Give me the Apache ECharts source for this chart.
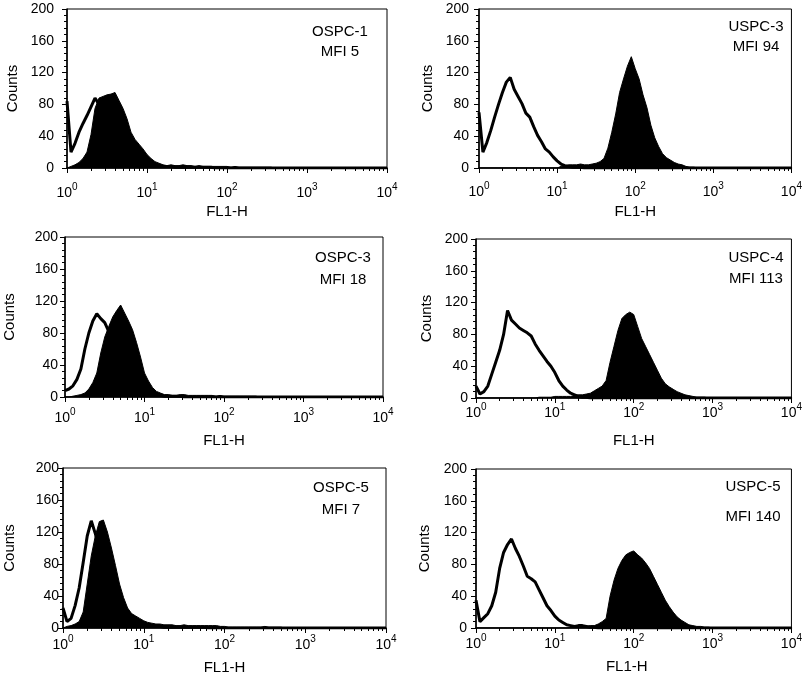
<!DOCTYPE html>
<html>
<head>
<meta charset="utf-8">
<script src="https://cdn.jsdelivr.net/npm/echarts@6/dist/echarts.min.js"></script>
<style>html,body{margin:0;padding:0;background:#fff}#c{width:805px;height:682px}</style>
</head>
<body>
<div id="c"></div>
<script>
// x positions: log10 of FL1-H fluorescence (0 = 10^0 ... 4 = 10^4)
const logFL = [0,0.05,0.1,0.15,0.2,0.25,0.3,0.35,0.4,0.45,0.5,0.55,0.6,0.65,0.7,0.75,0.8,0.85,0.9,0.95,
  1,1.05,1.1,1.15,1.2,1.25,1.3,1.35,1.4,1.45,1.5,1.55,1.6,1.65,1.7,1.75,1.8,1.85,1.9,1.95,
  2,2.05,2.1,2.15,2.2,2.25,2.3,2.35,2.4,2.45,2.5,2.55,2.6,2.65,2.7,2.75,2.8,2.85,2.9,2.95,
  3,3.05,3.1,3.15,3.2,3.25,3.3,3.35,3.4,3.45,3.5,3.55,3.6,3.65,3.7,3.75,3.8,3.85,3.9,3.95,4];

const xTickLabels = ['0','1','2','3','4'];
const yTicks = [0,40,80,120,160,200];

// counts per channel, open (control) and filled (stained) histograms
const ospc1Open = [84,20,31,45,56,66,77,88,80,72,62,52,42,33,26,20,15,11,8,6,5,4,3,3,2,2,2,1,1,1,1,1,1,1,1,1,1,0,0,0,0,0,0,0,0,0,0,0,0,0,0,0,0,0,0,0,0,0,0,0,0,0,0,0,0,0,0,0,0,0,0,0,0,0,0,0,0,0,0,0,0];
const ospc1Fill = [0,2,4,7,12,20,42,75,88,90,92,93,95,85,75,62,45,36,30,24,17,12,8,6,4,3,4,3,3,4,3,3,2,3,2,2,2,2,2,2,2,1,2,1,1,1,1,1,1,1,1,1,0,0,0,0,0,0,0,0,0,0,0,0,0,0,0,0,0,0,0,0,0,0,0,0,0,0,0,0,0];

const uspc3Open = [70,20,32,47,64,80,95,108,114,99,90,81,69,64,52,41,33,24,20,14,9,5,3,2,1,1,1,0,0,0,0,0,0,0,0,0,0,0,0,0,0,0,0,0,0,0,0,0,0,0,0,0,0,0,0,0,0,0,0,0,0,0,0,0,0,0,0,0,0,0,0,0,0,0,0,0,0,0,0,0,0];
const uspc3Fill = [0,0,0,0,0,0,0,0,0,0,0,0,0,0,0,0,0,0,0,0,0,2,3,4,4,4,5,4,4,5,6,8,12,25,45,68,95,112,128,140,125,112,92,76,54,38,27,18,13,10,7,5,4,2,1,1,0,0,0,0,0,0,0,0,0,0,0,0,0,0,0,0,0,0,0,0,0,0,0,0,0];

const ospc3Open = [8,10,14,22,35,60,80,95,104,98,93,82,68,55,42,30,20,14,9,6,4,3,3,2,2,1,1,1,1,1,0,0,0,0,0,0,0,0,0,0,0,0,0,0,0,0,0,0,0,0,0,0,0,0,0,0,0,0,0,0,0,0,0,0,0,0,0,0,0,0,0,0,0,0,0,0,0,0,0,0,0];
const ospc3Fill = [0,0,1,2,3,5,10,18,30,55,75,88,100,108,115,105,95,84,68,50,30,20,12,7,5,3,3,2,2,3,3,2,2,2,2,2,2,2,1,2,1,1,1,1,1,1,1,1,1,0,0,0,0,0,0,0,0,0,0,0,0,0,0,0,0,0,0,0,0,0,0,0,0,0,0,0,0,0,0,0,0];

const uspc4Open = [15,5,8,15,30,45,60,80,110,98,93,88,85,82,78,68,60,53,46,40,32,22,15,10,6,4,2,1,1,0,0,0,0,0,0,0,0,0,0,0,0,0,0,0,0,0,0,0,0,0,0,0,0,0,0,0,0,0,0,0,0,0,0,0,0,0,0,0,0,0,0,0,0,0,0,0,0,0,0,0,0];
const uspc4Fill = [0,0,0,0,0,0,0,0,0,0,0,0,0,0,0,0,1,1,1,1,2,2,2,2,2,3,4,4,5,6,9,12,15,22,45,65,85,100,105,108,105,90,75,65,55,45,35,25,18,14,11,8,6,4,3,2,1,1,1,0,0,0,0,0,0,0,0,0,0,0,0,0,0,0,0,0,0,0,0,0,0];

const ospc5Open = [25,8,12,28,50,82,115,134,118,100,80,60,45,32,22,15,10,7,5,4,4,3,3,2,2,1,1,1,1,1,1,1,1,1,1,1,0,0,0,0,0,0,0,0,0,0,0,0,0,0,0,0,0,0,0,0,0,0,0,0,0,0,0,0,0,0,0,0,0,0,0,0,0,0,0,0,0,0,0,0,0];
const ospc5Fill = [0,2,3,5,8,20,55,90,115,133,135,120,100,78,55,38,25,18,15,12,9,7,6,5,5,4,4,4,3,3,4,3,3,3,3,3,3,3,3,2,2,1,1,1,1,1,1,1,1,1,2,1,1,1,1,0,0,0,0,0,0,0,0,0,0,0,0,0,0,0,0,0,0,0,0,0,0,0,0,0,0];

const uspc5Open = [35,8,13,18,28,45,75,95,105,112,100,90,78,65,62,58,48,38,28,22,15,10,7,4,3,2,3,3,2,1,1,0,0,0,0,0,0,0,0,0,0,0,0,0,0,0,0,0,0,0,0,0,0,0,0,0,0,0,0,0,0,0,0,0,0,0,0,0,0,0,0,0,0,0,0,0,0,0,0,0,0];
const uspc5Fill = [0,0,0,0,0,0,0,0,0,0,0,0,0,0,0,0,0,0,0,0,0,0,0,0,1,1,2,2,2,3,3,5,8,12,40,60,75,85,92,95,97,92,88,82,75,65,55,45,35,27,20,14,10,7,4,3,2,2,1,1,0,0,0,0,0,0,0,0,0,0,0,0,0,0,0,0,0,0,0,0,0];

const panelNames = ['OSPC-1','USPC-3','OSPC-3','USPC-4','OSPC-5','USPC-5'];
const mfiLabels = ['MFI 5','MFI 94','MFI 18','MFI 113','MFI 7','MFI 140'];
const openSeries = [ospc1Open, uspc3Open, ospc3Open, uspc4Open, ospc5Open, uspc5Open];
const fillSeries = [ospc1Fill, uspc3Fill, ospc3Fill, uspc4Fill, ospc5Fill, uspc5Fill];

// layout (pixels)
const grids = [
  {left:67, top:9, width:320, height:159},
  {left:479, top:9, width:318, height:159},
  {left:65, top:237, width:318, height:160},
  {left:476, top:239, width:321, height:159},
  {left:63, top:468, width:323, height:160},
  {left:476, top:469, width:321, height:159}
];
const yLabelMargin = [13,10,7,8,4,9];
const yNameGap = [47,44,48,42,46,44];
const xLabelMargin = [14,13,10,4,6,5];
const xNameGap = [36,36,36,35,32,31];
const xNamePad = [[0,0,0,0],[0,0,0,0],[0,0,0,0],[0,0,0,0],[0,0,0,0],[0,14,0,0]];
const annot = [
  {x:340, y1:32, y2:52},
  {x:756, y1:27, y2:47},
  {x:343, y1:258, y2:280},
  {x:756, y1:258, y2:279},
  {x:341, y1:488, y2:510},
  {x:753, y1:487, y2:517}
];

const FONT = '"Liberation Sans", Arial, Helvetica, sans-serif';
const minorLog = [];
for (let d = 0; d < 4; d++) for (let k = 2; k <= 9; k++) minorLog.push(d + Math.log10(k));

const option = {
  animation: false,
  backgroundColor: '#fff',
  grid: [], xAxis: [], yAxis: [], series: [], graphic: []
};

grids.forEach((g, k) => {
  option.grid.push(Object.assign({show: true, borderColor: '#000', borderWidth: 1, backgroundColor: 'transparent'}, g));
  option.xAxis.push({
    type: 'value', gridIndex: k, min: 0, max: 4, interval: 1,
    name: 'FL1-H', nameLocation: 'middle', nameGap: xNameGap[k],
    nameTextStyle: {fontFamily: FONT, fontSize: 15, color: '#000', padding: xNamePad[k]},
    axisLine: {show: true, onZero: false, lineStyle: {color: '#000', width: 1.5}},
    axisTick: {show: true, length: 5, inside: false, lineStyle: {color: '#000', width: 1}},
    splitLine: {show: false},
    axisLabel: {
      margin: xLabelMargin[k], color: '#000', fontFamily: FONT,
      formatter: v => '{b|10}{s|' + xTickLabels[Math.round(v)] + '}',
      rich: {
        b: {fontSize: 14, lineHeight: 18, verticalAlign: 'bottom', fontFamily: FONT, color: '#000'},
        s: {fontSize: 10, lineHeight: 10, verticalAlign: 'top', fontFamily: FONT, color: '#000'}
      }
    }
  });
  option.xAxis.push({
    type: 'value', gridIndex: k, min: 0, max: 4, position: 'bottom',
    axisLine: {show: false}, splitLine: {show: false}, axisLabel: {show: false},
    axisTick: {show: true, length: 3, customValues: minorLog, lineStyle: {color: '#000', width: 1}}
  });
  option.yAxis.push({
    type: 'value', gridIndex: k, min: 0, max: 200, interval: 40,
    name: 'Counts', nameLocation: 'middle', nameGap: yNameGap[k], nameRotate: 90,
    nameTextStyle: {fontFamily: FONT, fontSize: 15, color: '#000'},
    axisLine: {show: true, lineStyle: {color: '#000', width: 1.5}},
    axisTick: {show: true, length: 5, lineStyle: {color: '#000', width: 1}},
    minorTick: {show: true, splitNumber: 5, length: 3, lineStyle: {color: '#000', width: 1}},
    splitLine: {show: false},
    axisLabel: {margin: yLabelMargin[k], color: '#000', fontFamily: FONT, fontSize: 14}
  });
  option.series.push({
    type: 'line', xAxisIndex: 2 * k, yAxisIndex: k, silent: true,
    data: logFL.map((x, i) => [x, openSeries[k][i]]),
    showSymbol: false, symbol: 'none', z: 2,
    lineStyle: {color: '#000', width: 3}
  });
  option.series.push({
    type: 'line', xAxisIndex: 2 * k, yAxisIndex: k, silent: true,
    data: logFL.map((x, i) => [x, fillSeries[k][i]]),
    showSymbol: false, symbol: 'none', z: 3,
    lineStyle: {color: '#000', width: 1},
    areaStyle: {color: '#000', opacity: 1}
  });
  const a = annot[k];
  option.graphic.push({type: 'text', x: a.x, y: a.y1, style: {text: panelNames[k], font: '15px ' + FONT, fill: '#000', align: 'center', verticalAlign: 'middle'}});
  option.graphic.push({type: 'text', x: a.x, y: a.y2, style: {text: mfiLabels[k], font: '15px ' + FONT, fill: '#000', align: 'center', verticalAlign: 'middle'}});
});

const chart = echarts.init(document.getElementById('c'), null, {renderer: 'canvas'});
chart.setOption(option);
</script>
</body>
</html>
